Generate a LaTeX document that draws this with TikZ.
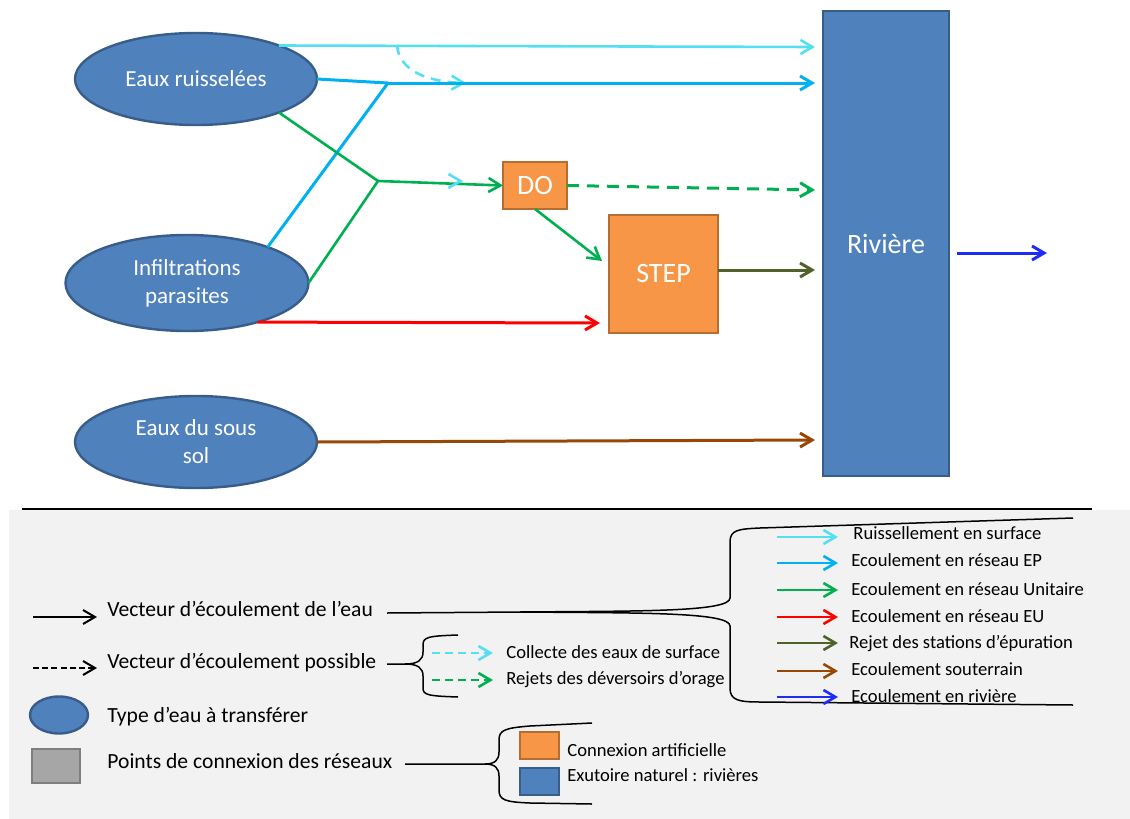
\documentclass[tikz,border=0pt]{standalone}
\usepackage{fontspec}
\setmainfont{Carlito}
\usetikzlibrary{arrows.meta,shapes.geometric}
\definecolor{ellfill}{HTML}{4F81BD}
\definecolor{ellborder}{HTML}{385D8A}
\definecolor{orfill}{HTML}{F79646}
\definecolor{orborder}{HTML}{B66D31}
\definecolor{cyanc}{HTML}{55DFF2}
\definecolor{epc}{HTML}{00B0F0}
\definecolor{unc}{HTML}{00B050}
\definecolor{euc}{HTML}{FF0000}
\definecolor{olivec}{HTML}{4F6228}
\definecolor{brownc}{HTML}{984806}
\definecolor{rivc}{HTML}{1E2DF5}
\definecolor{legbg}{HTML}{F2F2F2}
\definecolor{grayfill}{HTML}{A6A6A6}
\definecolor{grayborder}{HTML}{7F7F7F}
\begin{document}
\begin{tikzpicture}[x=0.5pt,y=-0.5pt,
  ell/.style={ellipse, draw=ellborder, fill=ellfill, line width=1.2pt, text=white,
    font=\fontsize{11.5}{14}\selectfont, align=center, inner sep=0pt, outer sep=0pt},
  orbox/.style={rectangle, draw=orborder, fill=orfill, line width=1.2pt, text=white,
    font=\fontsize{14}{16}\selectfont, inner sep=0pt, outer sep=0pt},
  rivbox/.style={rectangle, draw=ellborder, fill=ellfill, line width=1.2pt, text=white,
    font=\fontsize{14}{16}\selectfont, inner sep=0pt, outer sep=0pt},
  tip/.style={-{Straight Barb[length=6pt,width=7pt]}},
  flow/.style={line width=1.5pt, tip},
  legtxt/.style={anchor=base west, inner sep=0pt, font=\fontsize{10.8}{13}\selectfont},
  smalltxt/.style={anchor=base west, inner sep=0pt, font=\fontsize{9.3}{11}\selectfont},
  brace/.style={line width=0.75pt, black},
]
\useasboundingbox (0,0) rectangle (1130,819);

% ---------- main diagram ----------
\node[ell, minimum width=121pt, minimum height=46pt] (e1) at (196,79) {Eaux ruisselées};
\node[ell, minimum width=121.5pt, minimum height=48pt] (e2) at (187,283) {Infiltrations\\parasites};
\node[ell, minimum width=121pt, minimum height=46pt] (e3) at (196,442) {Eaux du sous\\sol};
\node[rivbox, minimum width=63pt, minimum height=232.5pt] (riv) at (886,243.5) {Rivière};
\node[orbox, minimum width=32pt, minimum height=23.5pt] (do) at (535,185.5) {DO};
\node[orbox, minimum width=54.5pt, minimum height=59pt] (step) at (663.5,274) {STEP};

\coordinate (jep) at (388,83);
\coordinate (jun) at (378,181);
\coordinate (r1) at (815,47);
\coordinate (r2) at (815,83);
\coordinate (r3) at (815,190);
\coordinate (r4) at (815,270);
\coordinate (r5) at (815,440);
\coordinate (s1) at (602,261);
\coordinate (s2) at (600,323);
\coordinate (cs) at (397,45);
\coordinate (ce) at (466,83);
\coordinate (o1) at (957,253);
\coordinate (o2) at (1047,253);

% surface runoff
\draw[cyanc, flow, line width=1.3pt] (e1.22) -- (r1);
\draw[cyanc, line width=1.3pt, dash pattern=on 5pt off 3.5pt, tip] (cs) .. controls (399,72) and (430,82) .. (ce);
% EP network
\draw[epc, line width=1.5pt] (e1.east) -- (jep);
\draw[epc, line width=1.5pt] (e2.24) -- (jep);
\draw[epc, flow] (jep) -- (r2);
% unitary network
\draw[unc, line width=1.3pt] (e1.-22) -- (jun);
\draw[unc, line width=1.3pt] (e2.east) -- (jun);
\draw[unc, flow, line width=1.3pt] (jun) -- (do.west);
\draw[cyanc, line width=1.3pt, tip] (459,181) -- (463,181);
\draw[unc, flow, line width=1.3pt] (do.south) -- (s1);
\draw[unc, line width=1.5pt, dash pattern=on 6pt off 4pt, tip] (do.east) -- (r3);
% EU network
\draw[euc, flow] (e2.-29) -- (s2);
% STEP outflow
\draw[olivec, flow] (step.east |- r4) -- (r4);
% groundwater
\draw[brownc, flow] (e3.east) -- (r5);
% river outflow
\draw[rivc, flow] (o1) -- (o2);

% ---------- legend ----------
\fill[legbg] (9,510) rectangle (1130,819);
\draw[black, line width=0.6pt] (22,509) -- (1092,509);

\coordinate (la1) at (33,617); \coordinate (la2) at (97,617);
\coordinate (lb1) at (33,668); \coordinate (lb2) at (97,668);
\draw[black, line width=1pt, tip] (la1) -- (la2);
\draw[black, line width=1pt, dash pattern=on 3pt off 1.6pt, tip] (lb1) -- (lb2);
\node[ell, minimum width=29pt, minimum height=18.5pt] (lell) at (59,715) {};
\node[rectangle, draw=grayborder, fill=grayfill, line width=1.2pt, minimum width=24pt, minimum height=17pt, inner sep=0pt] (lgray) at (56,766) {};

\node[legtxt] (t1) at (107,616) {Vecteur d’écoulement de l’eau};
\node[legtxt] (t2) at (107,668) {Vecteur d’écoulement possible};
\node[legtxt] (t3) at (107,722) {Type d’eau à transférer};
\node[legtxt] (t4) at (107,768) {Points de connexion des réseaux};

% brace 1
\coordinate (b1) at (387,613);
\coordinate (b1m) at (520,612);
\draw[brace] (b1) -- (b1m) .. controls (640,611) and (730,612) .. (730,598) -- (730,542)
  .. controls (730,530) and (738,529) .. (760,528) -- (1073,518);
\draw[brace] (b1m) .. controls (640,613) and (730,612) .. (730,626) -- (730,688)
  .. controls (730,700) and (738,702) .. (760,702) -- (1073,705);

% brace 2
\coordinate (b2) at (387,664);
\coordinate (b2m) at (405,664);
\draw[brace] (b2) -- (b2m) .. controls (418,664) and (423,660) .. (423,652) -- (423,645)
  .. controls (423,637) and (428,636) .. (458,635);
\draw[brace] (b2m) .. controls (418,664) and (423,668) .. (423,676) -- (423,688)
  .. controls (423,695) and (428,696) .. (458,697);

% brace 3
\coordinate (b3) at (405,764);
\coordinate (b3m) at (485,764);
\draw[brace] (b3) -- (b3m) .. controls (495,764) and (499,760) .. (499,752) -- (499,740)
  .. controls (499,730) and (505,728) .. (530,726) -- (592,723);
\draw[brace] (b3m) .. controls (495,764) and (499,768) .. (499,776) -- (499,790)
  .. controls (499,800) and (505,802) .. (530,803) -- (592,804);

% possible flows
\coordinate (pc1) at (432,653); \coordinate (pc2) at (493,653);
\coordinate (pd1) at (432,680); \coordinate (pd2) at (493,680);
\draw[cyanc, line width=1.3pt, dash pattern=on 4pt off 2.5pt, tip] (pc1) -- (pc2);
\draw[unc, line width=1.3pt, dash pattern=on 4pt off 2.5pt, tip] (pd1) -- (pd2);
\node[smalltxt] (tc) at (506,658) {Collecte des eaux de surface};
\node[smalltxt] (td) at (506,684) {Rejets des déversoirs d’orage};

% connection points
\node[orbox, minimum width=19.5pt, minimum height=13.5pt] (lor) at (539.5,745.5) {};
\node[rivbox, minimum width=19.5pt, minimum height=13.5pt] (lbl) at (539.5,781.5) {};
\node[smalltxt] (tor) at (567,756) {Connexion artificielle};
\node[smalltxt] (tbl) at (567,781) {Exutoire naturel : rivières};

% flow types
\foreach \yy/\cc/\nn in {537/cyanc/f1, 563/epc/f2, 590/unc/f3, 617/euc/f4, 643/olivec/f5, 671/brownc/f6, 697/rivc/f7}{
  \coordinate (\nn a) at (777,\yy);
  \coordinate (\nn b) at (838,\yy);
  \draw[\cc, line width=1.3pt, tip] (\nn a) -- (\nn b);
}
\node[smalltxt] (g1) at (853,539) {Ruissellement en surface};
\node[smalltxt] (g2) at (851,566) {Ecoulement en réseau EP};
\node[smalltxt] (g3) at (851,595) {Ecoulement en réseau Unitaire};
\node[smalltxt] (g4) at (851,622) {Ecoulement en réseau EU};
\node[smalltxt] (g5) at (849,648) {Rejet des stations d’épuration};
\node[smalltxt] (g6) at (851,675) {Ecoulement souterrain};
\node[smalltxt] (g7) at (851,702) {Ecoulement en rivière};
\end{tikzpicture}
\end{document}
